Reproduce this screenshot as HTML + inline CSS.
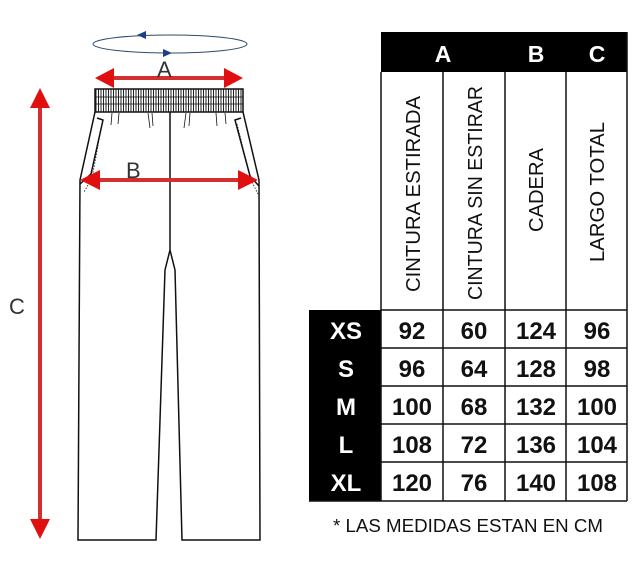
<!DOCTYPE html>
<html><head><style>
body{margin:0;width:640px;height:571px;background:#fff;overflow:hidden;font-family:"Liberation Sans",sans-serif}
</style></head><body>
<svg width="640" height="571" viewBox="0 0 640 571" xmlns="http://www.w3.org/2000/svg">
<defs>
<pattern id="rib" width="2.5" height="23" patternUnits="userSpaceOnUse"><rect width="2.5" height="23" fill="#fff"/><line x1="1" y1="0" x2="1" y2="23" stroke="#222" stroke-width="1"/></pattern>
</defs>
<ellipse cx="170" cy="44" rx="77" ry="9" fill="none" stroke="#2c4a6a" stroke-width="1"/>
<polygon points="137,35 146,31 146,39" fill="#1d3f8a"/>
<polygon points="172,53 163,49 163,57" fill="#1d3f8a"/>
<g fill="none" stroke="#111" stroke-width="1.5">
<path d="M95,112 L80,180 L78,540 L156,540 L165,270 L170,250 L175,270 L182,540 L260,540 L259,180 L243,112"/>
<line x1="170" y1="112" x2="170" y2="250"/>
<path d="M97,118 L103,120 L91,174 L80,184"/>
<path d="M241,118 L235,120 L250,176 L259,186"/>
<path d="M102,124 L92,178 L84,192" stroke-dasharray="1.5,1.5" stroke-width="0.8"/>
<path d="M237,124 L251,180 L258,194" stroke-dasharray="1.5,1.5" stroke-width="0.8"/>
<path d="M112,113 L111,125 M119,113 L118,124 M148,113 L150,128 M152,113 L153,126 M186,113 L184,128 M190,113 L189,126 M216,113 L217,126 M225,113 L226,124" stroke-width="0.8"/>
</g>
<rect x="95" y="89" width="148" height="23" fill="url(#rib)" stroke="#111" stroke-width="1.5"/>
<line x1="95" y1="97" x2="243" y2="97" stroke="#111" stroke-width="0.8"/>
<line x1="95" y1="104" x2="243" y2="104" stroke="#111" stroke-width="0.8"/>
<g fill="#e01010" stroke="none">
<rect x="110" y="76" width="118" height="4" fill="#d32f2f"/>
<polygon points="95,78 114,68 114,88"/><polygon points="243,78 224,68 224,88"/>
<rect x="95" y="178" width="148" height="4" fill="#d32f2f"/>
<polygon points="80,180 100,170 100,190"/><polygon points="258,180 238,170 238,190"/>
<rect x="38" y="105" width="4" height="420" fill="#d32f2f"/>
<polygon points="40,88 30,108 50,108"/><polygon points="40,539 30,519 50,519"/>
</g>
<g font-family="Liberation Sans" font-size="22" fill="#333">
<text x="157" y="77">A</text><text x="126" y="178">B</text><text x="9" y="314">C</text>
</g>
<rect x="381" y="32" width="246" height="40" fill="#000"/>
<g font-family="Liberation Sans" font-weight="bold" font-size="23" fill="#fff" text-anchor="middle">
<text x="443" y="62">A</text><text x="536" y="62">B</text><text x="597" y="62">C</text>
</g>
<rect x="309" y="310" width="72" height="191" fill="#000"/>
<g stroke="#111" stroke-width="1.5" fill="none">
<line x1="381" y1="72" x2="381" y2="501"/>
<line x1="443" y1="72" x2="443" y2="501"/>
<line x1="505" y1="72" x2="505" y2="501"/>
<line x1="566" y1="72" x2="566" y2="501"/>
<line x1="627" y1="32" x2="627" y2="501"/>
<line x1="381" y1="310" x2="627" y2="310"/>
<line x1="381" y1="348" x2="627" y2="348"/>
<line x1="381" y1="386" x2="627" y2="386"/>
<line x1="381" y1="424" x2="627" y2="424"/>
<line x1="381" y1="462" x2="627" y2="462"/>
<line x1="309" y1="501" x2="627" y2="501"/>
</g>
<g font-family="Liberation Sans" font-size="20" fill="#111">
<text transform="translate(420,292) rotate(-90)" textLength="196" lengthAdjust="spacingAndGlyphs">CINTURA ESTIRADA</text>
<text transform="translate(482,300) rotate(-90)" textLength="214" lengthAdjust="spacingAndGlyphs">CINTURA SIN ESTIRAR</text>
<text transform="translate(543,232) rotate(-90)" textLength="84" lengthAdjust="spacingAndGlyphs">CADERA</text>
<text transform="translate(604,262) rotate(-90)" textLength="140" lengthAdjust="spacingAndGlyphs">LARGO TOTAL</text>
</g>
<g font-family="Liberation Sans" font-weight="bold" font-size="24" fill="#fff" text-anchor="middle">
<text x="346" y="339">XS</text><text x="346" y="377">S</text><text x="346" y="415">M</text><text x="346" y="453">L</text><text x="346" y="491">XL</text>
</g>
<g font-family="Liberation Sans" font-weight="bold" font-size="24" fill="#111" text-anchor="middle">
<text x="412" y="339">92</text><text x="474" y="339">60</text><text x="536" y="339">124</text><text x="597" y="339">96</text>
<text x="412" y="377">96</text><text x="474" y="377">64</text><text x="536" y="377">128</text><text x="597" y="377">98</text>
<text x="412" y="415">100</text><text x="474" y="415">68</text><text x="536" y="415">132</text><text x="597" y="415">100</text>
<text x="412" y="453">108</text><text x="474" y="453">72</text><text x="536" y="453">136</text><text x="597" y="453">104</text>
<text x="412" y="491">120</text><text x="474" y="491">76</text><text x="536" y="491">140</text><text x="597" y="491">108</text>
</g>
<text x="333" y="532" font-family="Liberation Sans" font-size="18" fill="#111" textLength="270" lengthAdjust="spacingAndGlyphs">* LAS MEDIDAS ESTAN EN CM</text>
</svg>
</body></html>
